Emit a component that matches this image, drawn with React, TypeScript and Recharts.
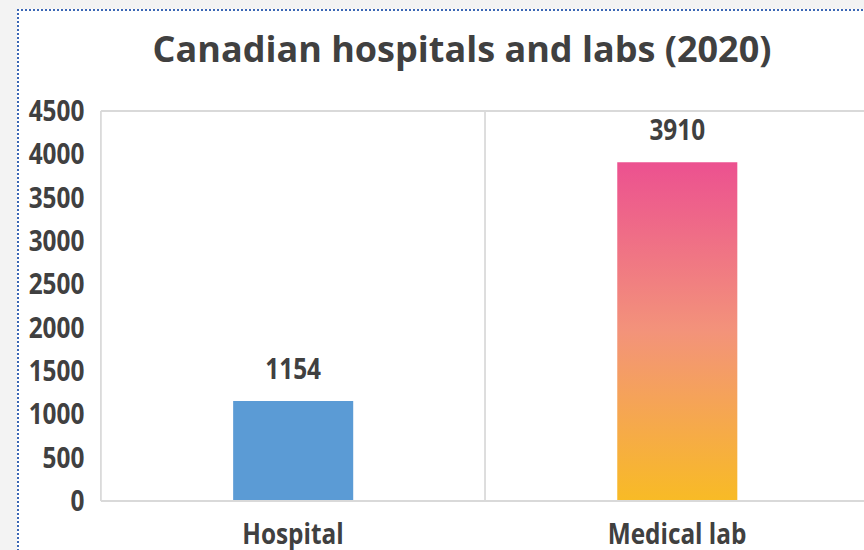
import React from "react";
import { BarChart, Bar, XAxis, YAxis, CartesianGrid, Cell, LabelList } from "recharts";

const categories = ["Hospital", "Medical lab"];
const counts = [1154, 3910];
const yTicks = [0, 500, 1000, 1500, 2000, 2500, 3000, 3500, 4000, 4500];

const data = categories.map((name, i) => ({ name, value: counts[i] }));

const FONT = '"Open Sans", sans-serif';
const TEXT = "#404040";
const GRID = "#d9d9d9";
// the reference is squeezed horizontally, so the chart body is scaled in x
const SX = 0.87;

export default function App() {
  return (
    <div
      style={{
        position: "fixed",
        left: 0,
        top: 0,
        width: 864,
        height: 550,
        overflow: "hidden",
        background: "#f3f3f3",
      }}
    >
      <div
        style={{
          position: "absolute",
          left: 17,
          top: 9,
          width: 1000,
          height: 600,
          background: "#fff",
          borderLeft: "2px dotted #3c67b5",
          borderTop: "2px dotted #3c67b5",
        }}
      />
      <div
        style={{
          position: "absolute",
          left: 0,
          top: 27,
          width: 924,
          textAlign: "center",
          fontFamily: FONT,
          fontWeight: 700,
          fontSize: 36,
          lineHeight: "44px",
          color: TEXT,
          whiteSpace: "nowrap",
        }}
      >
        Canadian hospitals and labs (2020)
      </div>
      <div
        style={{
          position: "absolute",
          left: 20,
          top: 12,
          width: 1000,
          height: 560,
          transform: `scaleX(${SX})`,
          transformOrigin: "0 0",
        }}
      >
        <BarChart
          width={1000}
          height={560}
          data={data}
          margin={{ top: 99, right: 24, left: 0, bottom: 11 }}
          barSize={138}
        >
          <defs>
            <linearGradient id="labGrad" x1="0" y1="0" x2="0" y2="1">
              <stop offset="0%" stopColor="#ec5190" />
              <stop offset="50%" stopColor="#f3937a" />
              <stop offset="100%" stopColor="#f8bb25" />
            </linearGradient>
          </defs>
          <CartesianGrid
            stroke={GRID}
            strokeWidth={2}
            horizontalCoordinatesGenerator={({ offset }: any) => [offset.top]}
            verticalCoordinatesGenerator={({ offset }: any) => [
              offset.left + offset.width / 2,
              offset.left + offset.width,
            ]}
          />
          <XAxis
            dataKey="name"
            height={60}
            axisLine={{ stroke: GRID, strokeWidth: 2 }}
            tickLine={false}
            tickMargin={17}
            tick={{ fill: TEXT, fontSize: 28, fontWeight: 700, fontFamily: FONT }}
          />
          <YAxis
            width={93}
            domain={[0, 4500]}
            ticks={yTicks}
            interval={0}
            axisLine={{ stroke: GRID, strokeWidth: 2 }}
            tickLine={false}
            tickMargin={13}
            tick={{ fill: TEXT, fontSize: 28, fontWeight: 700, fontFamily: FONT }}
          />
          <Bar dataKey="value" isAnimationActive={false}>
            {data.map((d, i) => (
              <Cell key={d.name} fill={i === 0 ? "#5b9bd5" : "url(#labGrad)"} />
            ))}
            <LabelList
              dataKey="value"
              position="top"
              offset={22}
              fill={TEXT}
              fontSize={28}
              fontWeight={700}
              fontFamily={FONT}
            />
          </Bar>
        </BarChart>
      </div>
    </div>
  );
}
